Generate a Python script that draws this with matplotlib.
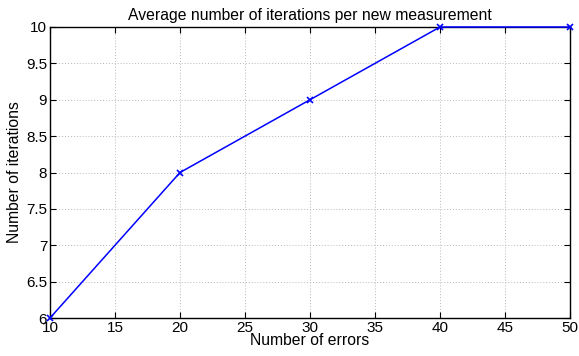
import matplotlib
matplotlib.use("Agg")
import matplotlib.pyplot as plt

# data
num_errors = [10, 20, 30, 40, 50]
num_iterations = [6, 8, 9, 10, 10]
x_ticks = [10, 15, 20, 25, 30, 35, 40, 45, 50]
y_ticks = [6, 6.5, 7, 7.5, 8, 8.5, 9, 9.5, 10]
y_tick_labels = ["6", "6.5", "7", "7.5", "8", "8.5", "9", "9.5", "10"]

plt.rcParams["font.family"] = ["Liberation Sans", "DejaVu Sans"]

fig = plt.figure(figsize=(5.79, 3.56), dpi=100)
ax = fig.add_axes([50 / 579, 38 / 356, 520 / 579, 291 / 356])

ax.plot(num_errors, num_iterations, color="#0000ff", linewidth=1.1,
        marker="x", markersize=5, markeredgewidth=1.2, clip_on=False, zorder=3)

ax.set_xlim(10, 50)
ax.set_ylim(6, 10)
ax.set_xticks(x_ticks)
ax.set_yticks(y_ticks)
ax.set_yticklabels(y_tick_labels)
ax.grid(True, linestyle=(0, (1, 2)), color="#b8b8b8", linewidth=0.7)
ax.tick_params(direction="in", top=True, right=True, length=4, width=0.8,
               labelsize=11, pad=2)
for s in ax.spines.values():
    s.set_linewidth(1.0)

ax.set_title("Average number of iterations per new measurement", fontsize=11.3, pad=5)
ax.set_xlabel("Number of errors", fontsize=11.3, labelpad=-1)
ax.set_ylabel("Number of iterations", fontsize=11.3, labelpad=3)

fig.savefig("out.png", dpi=100)
